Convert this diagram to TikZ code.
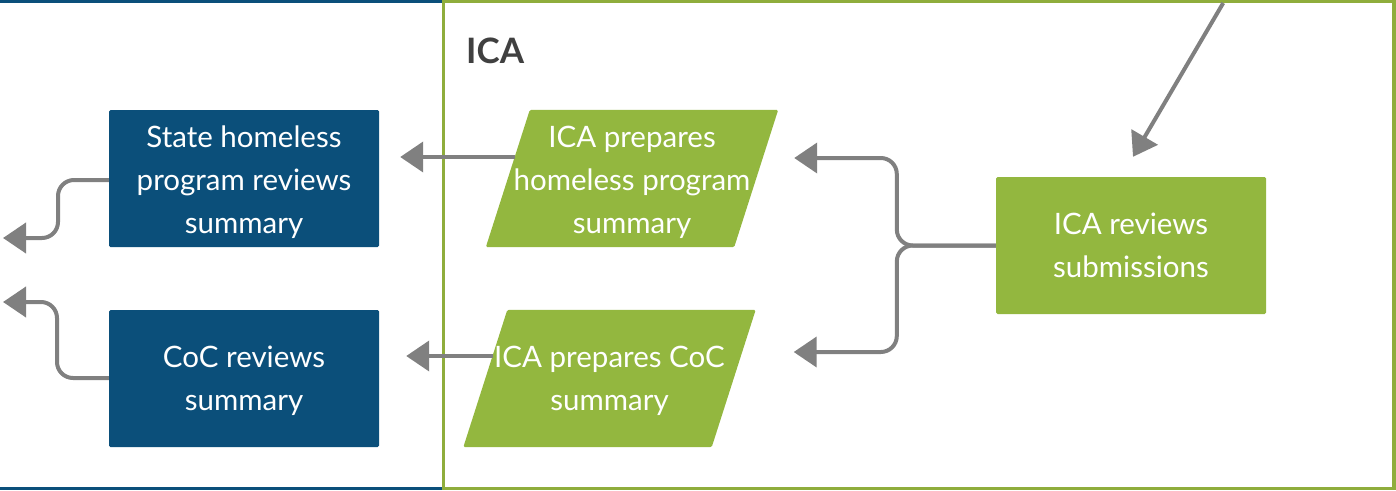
\documentclass[tikz,border=0pt]{standalone}
\usepackage{fontspec}
\setmainfont{Lato}
\usetikzlibrary{arrows.meta,calc}
\pgfdeclarelayer{background}
\pgfsetlayers{background,main}
\definecolor{laneblue}{HTML}{0B4F7A}
\definecolor{icagreen}{HTML}{93B73F}
\definecolor{framegreen}{HTML}{8FAD3C}
\definecolor{conngray}{HTML}{808080}
\definecolor{labelgray}{HTML}{404040}
% a taller first line sets a text block a little lower in its box
\newcommand{\tallfirst}[1]{\rule{0pt}{#1}}
\begin{document}
\begin{tikzpicture}[x=1pt,y=-1pt,
  box/.style={rectangle, rounded corners=1.5pt, minimum width=270pt, minimum height=137pt,
    inner sep=0pt, text=white, align=center, font=\fontsize{29.5}{43}\selectfont},
  bluebox/.style={box, fill=laneblue},
  greenbox/.style={box, fill=icagreen},
  % text area of a parallelogram step; its slanted outline is filled below
  para/.style={rectangle, minimum width=248pt, minimum height=137pt, inner sep=0pt,
    text=white, align=center, font=\fontsize{29.5}{43}\selectfont},
  conn/.style={draw=conngray, line width=4pt, -{Triangle[length=23pt,width=30pt]},
    rounded corners=16pt},
  lanelabel/.style={anchor=base west, text=labelgray, inner sep=0pt,
    font=\fontsize{35}{40}\selectfont\bfseries}]
\useasboundingbox (0,0) rectangle (1396,490);

% swimlane frames
\draw[laneblue, line width=3.3pt] (-10,1.65) rectangle (443.5,488.35);
\draw[framegreen, line width=3.6pt] (443.5,1.65) rectangle (1394.2,488.35);

\node[lanelabel] (ica) at (466,63) {ICA};

% process steps
\node[bluebox] (s) at (244,178.5) {\tallfirst{29pt}State homeless\\program reviews\\summary};
\node[bluebox] (c) at (244,378.5) {\tallfirst{27pt}CoC reviews\\summary};
\node[para] (p1) at (632,178.5) {\tallfirst{29pt}ICA prepares\\homeless program\\summary};
\node[para] (p2) at (609.5,378.5) {\tallfirst{27pt}ICA prepares CoC\\summary};
\node[greenbox] (r) at (1131,245.5) {ICA reviews\\submissions};

% slanted outlines of the two preparation steps
\begin{pgfonlayer}{background}
  \foreach \n in {p1,p2}
    \fill[icagreen, rounded corners=1.5pt]
      ($(\n.south west)+(-22,0)$) -- ($(\n.north west)+(22,0)$) --
      ($(\n.north east)+(22,0)$) -- ($(\n.south east)+(-22,0)$) -- cycle;
\end{pgfonlayer}

% incoming and outgoing free ends
\coordinate (in) at (1223.2,3);
\coordinate (out1) at (3,238);
\coordinate (out2) at (3,302);

% connectors
\draw[conn] (in) -- ($(r.north)+(2,-20)$);
\draw[conn] (r.west) -- ($(r.west)+(-99,0)$) |- ($(p1.east)+(38,-20.5)$);
\draw[conn] (r.west) -- ($(r.west)+(-99,0)$) |- ($(p2.east)+(60,-26.5)$);
\draw[conn] ($(p1.west)+(7,-21.5)$) -- ($(s.east)+(21,-21.5)$);
\draw[conn] ($(p2.west)+(7.5,-22.5)$) -- ($(c.east)+(27,-22.5)$);
\draw[conn] ($(s.west)+(0,1.5)$) -| ($(out1)+(55,0)$) -- (out1);
\draw[conn] ($(c.west)+(0,-0.5)$) -| ($(out2)+(54,0)$) -- (out2);
\end{tikzpicture}
\end{document}
